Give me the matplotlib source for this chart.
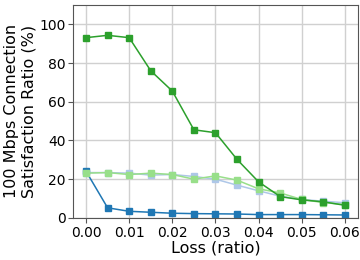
import matplotlib
matplotlib.use("Agg")
import matplotlib.pyplot as plt

loss = [0.0, 0.005, 0.01, 0.015, 0.02, 0.025, 0.03, 0.035, 0.04, 0.045, 0.05, 0.055, 0.06]

light_blue = [23.4, 23.4, 23.1, 22.1, 22.4, 21.4, 20.0, 16.9, 14.0, 11.2, 9.5, 8.6, 7.8]
dark_blue = [24.1, 5.2, 3.4, 2.9, 2.4, 2.2, 2.1, 2.0, 1.7, 1.7, 1.7, 1.6, 1.5]
light_green = [23.1, 23.4, 22.4, 23.1, 22.4, 20.0, 21.7, 19.5, 15.0, 12.9, 9.5, 7.9, 6.9]
dark_green = [93.1, 94.3, 93.1, 76.0, 65.5, 45.5, 44.0, 30.2, 18.6, 11.0, 9.3, 8.3, 6.5]

series = [
    (light_blue, "#aec7e8"),
    (dark_blue, "#1f77b4"),
    (light_green, "#98df8a"),
    (dark_green, "#2ca02c"),
]

fig, ax = plt.subplots(figsize=(3.6, 2.6), dpi=100)

for values, color in series:
    ax.plot(loss, values, color=color, marker="s", markersize=4, linewidth=1.1)

ax.set_ylim(0, 110)
ax.set_xticks([0.0, 0.01, 0.02, 0.03, 0.04, 0.05, 0.06])
ax.set_yticks([0, 20, 40, 60, 80, 100])
ax.grid(True, color="#d0d0d0", linewidth=1.0)
ax.set_axisbelow(True)
for spine in ax.spines.values():
    spine.set_color("#555555")
ax.tick_params(labelsize=10, color="#555555", pad=2)
ax.set_xlabel("Loss (ratio)", fontsize=11.5, labelpad=1)
ax.set_ylabel("100 Mbps Connection\nSatisfaction Ratio (%)", fontsize=11.5, labelpad=2)

fig.subplots_adjust(left=0.203, right=0.994, top=0.981, bottom=0.162)
fig.savefig("out.png")
